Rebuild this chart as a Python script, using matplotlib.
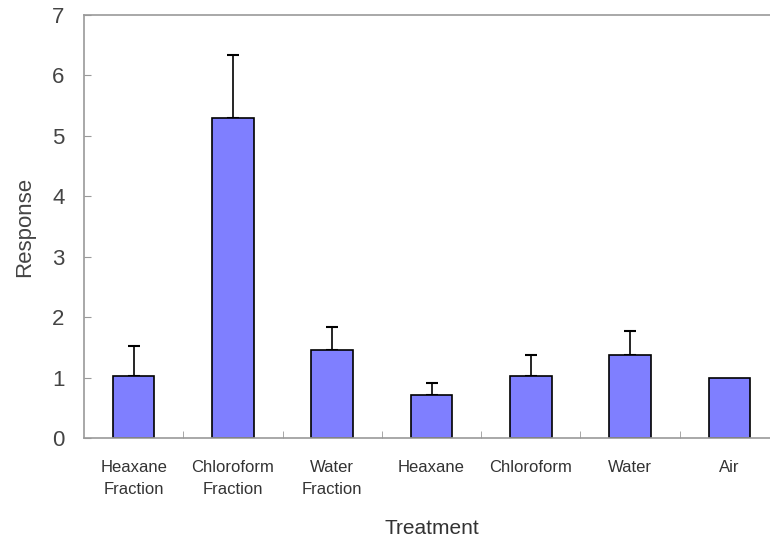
import matplotlib.pyplot as plt
import numpy as np

categories = ['Heaxane\nFraction', 'Chloroform\nFraction', 'Water\nFraction',
              'Heaxane', 'Chloroform', 'Water', 'Air']
response = [1.03, 5.29, 1.46, 0.71, 1.03, 1.37, 1.0]
err_up = [0.49, 1.05, 0.38, 0.20, 0.34, 0.40, 0.0]

plt.rcParams['font.family'] = ['Liberation Sans', 'DejaVu Sans']

fig = plt.figure(figsize=(7.7, 5.49), dpi=100)
# right edge of the plot runs past the picture, as in the original
ax = fig.add_axes([84 / 770, 1 - 438 / 549, 695 / 770, 423 / 549])

x = np.arange(len(categories))
ax.bar(x, response, width=0.42, color='#7f7fff', edgecolor='black', linewidth=1.2, zorder=2)
mask = np.array(err_up) > 0
ax.errorbar(x[mask], np.array(response)[mask],
            yerr=[np.zeros(mask.sum()), np.array(err_up)[mask]],
            fmt='none', ecolor='black', elinewidth=1.2, capsize=4, capthick=1.5, zorder=1)

ax.set_xlim(-0.5, 6.5)
ax.set_ylim(0, 7)
ax.set_yticks(range(0, 8))
ax.set_xticks(x)
ax.set_xticklabels(categories, fontsize=12, color='#333333', linespacing=1.55)
ax.set_xticks(np.arange(0.5, 6, 1), minor=True)
ax.tick_params(axis='x', which='major', length=0, pad=16)
ax.tick_params(axis='x', which='minor', direction='in', length=5, color='#999999')
ax.tick_params(axis='y', direction='in', length=5, color='#999999', labelsize=16,
               labelcolor='#444444', pad=14)

for side in ['left', 'bottom', 'top', 'right']:
    ax.spines[side].set_color('#999999')
    ax.spines[side].set_linewidth(1.2)

ax.set_ylabel('Response', fontsize=16, color='#444444', labelpad=12)
ax.set_xlabel('Treatment', fontsize=15, color='#333333', labelpad=16)

plt.savefig('out.png', dpi=100)
